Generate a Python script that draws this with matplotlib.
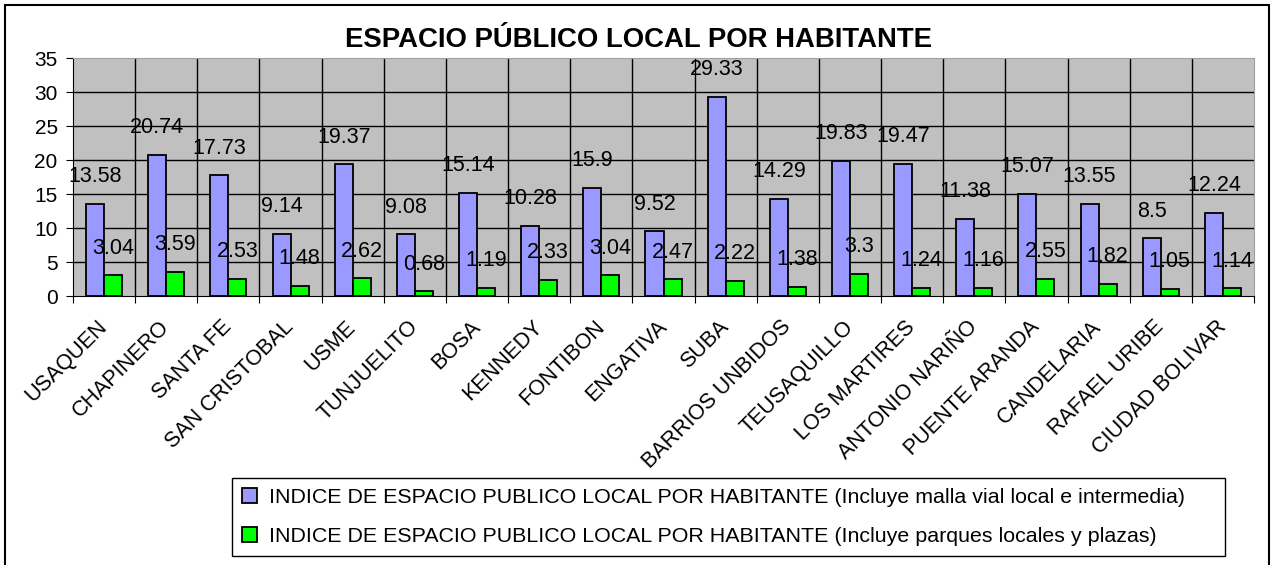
import matplotlib
matplotlib.use("Agg")
import matplotlib.pyplot as plt
import numpy as np
from matplotlib.patches import Rectangle


localidades = [
    "USAQUEN", "CHAPINERO", "SANTA FE", "SAN CRISTOBAL", "USME",
    "TUNJUELITO", "BOSA", "KENNEDY", "FONTIBON", "ENGATIVA", "SUBA",
    "BARRIOS UNBIDOS", "TEUSAQUILLO", "LOS MARTIRES", "ANTONIO NARIÑO",
    "PUENTE ARANDA", "CANDELARIA", "RAFAEL URIBE", "CIUDAD BOLIVAR",
]
malla_vial = [13.58, 20.74, 17.73, 9.14, 19.37, 9.08, 15.14, 10.28, 15.9, 9.52,
              29.33, 14.29, 19.83, 19.47, 11.38, 15.07, 13.55, 8.5, 12.24]
parques = [3.04, 3.59, 2.53, 1.48, 2.62, 0.68, 1.19, 2.33, 3.04, 2.47,
           2.22, 1.38, 3.3, 1.24, 1.16, 2.55, 1.82, 1.05, 1.14]

titulo = "ESPACIO PÚBLICO LOCAL POR HABITANTE"
serie1 = "INDICE DE ESPACIO PUBLICO LOCAL POR HABITANTE (Incluye malla vial local e intermedia)"
serie2 = "INDICE DE ESPACIO PUBLICO LOCAL POR HABITANTE (Incluye parques locales y plazas)"

plt.rcParams["font.family"] = ["Liberation Sans", "DejaVu Sans"]

W, H = 1272, 565
fig = plt.figure(figsize=(W / 100, H / 100), dpi=100)
ax = fig.add_axes([73 / W, 1 - 296 / H, (1254 - 73) / W, (296 - 58) / H])
ax.set_facecolor("#c0c0c0")

x = np.arange(len(localidades))
w = 0.29
b1 = ax.bar(x - w / 2, malla_vial, w, color="#9999ff", edgecolor="black", linewidth=1.3, zorder=3)
b2 = ax.bar(x + w / 2, parques, w, color="#00ff00", edgecolor="black", linewidth=1.3, zorder=3)

for bars in (b1, b2):
    for r in bars:
        v = r.get_height()
        ax.annotate(f"{v:g}", (r.get_x() + r.get_width() / 2, v),
                    xytext=(0, 12), textcoords="offset points",
                    ha="center", va="bottom", fontsize=15.5, zorder=4)

ax.set_xlim(-0.5, len(localidades) - 0.5)
ax.set_ylim(0, 35)
ax.set_yticks(np.arange(0, 36, 5))
for yv in range(5, 35, 5):
    ax.axhline(yv, color="black", lw=1, zorder=1)
for k in range(1, len(localidades)):
    ax.axvline(k - 0.5, color="black", lw=1, zorder=1)

ax.set_xticks(np.arange(-0.5, len(localidades), 1))
ax.set_xticklabels([])
ax.set_xticks(x, minor=True)
ax.set_xticklabels(localidades, minor=True, rotation=45, ha="right",
                   rotation_mode="anchor", va="center", fontsize=15.5)
ax.tick_params(axis="x", which="minor", length=0, pad=20)
ax.tick_params(axis="x", which="major", length=5, direction="out")
ax.tick_params(axis="y", length=5, direction="out", labelsize=15, pad=6)

for s in ("top", "right"):
    ax.spines[s].set_color("#a0a0a0")
ax.spines["left"].set_color("black")
ax.spines["bottom"].set_color("black")

fig.text(638 / W, 1 - 40 / H, titulo, ha="center", va="center",
         fontsize=19.8, fontweight="bold")

leg = fig.legend([b1, b2], [serie1, serie2], loc="upper left",
                 bbox_to_anchor=(232 / W, 1 - 556 / H, 993 / W, 78 / H),
                 mode="expand", borderaxespad=0, fancybox=False,
                 edgecolor="black", framealpha=1, handlelength=0.7,
                 handleheight=0.7, handletextpad=0.6, labelspacing=0.95,
                 borderpad=0.45, fontsize=15.4)
leg.get_frame().set_linewidth(1)

fig.patches.append(Rectangle((5 / W, -0.02), (1269 - 5) / W, 1 - 5 / H + 0.02,
                             transform=fig.transFigure, fill=False,
                             edgecolor="black", lw=1.5))

fig.savefig("out.png", dpi=100)
